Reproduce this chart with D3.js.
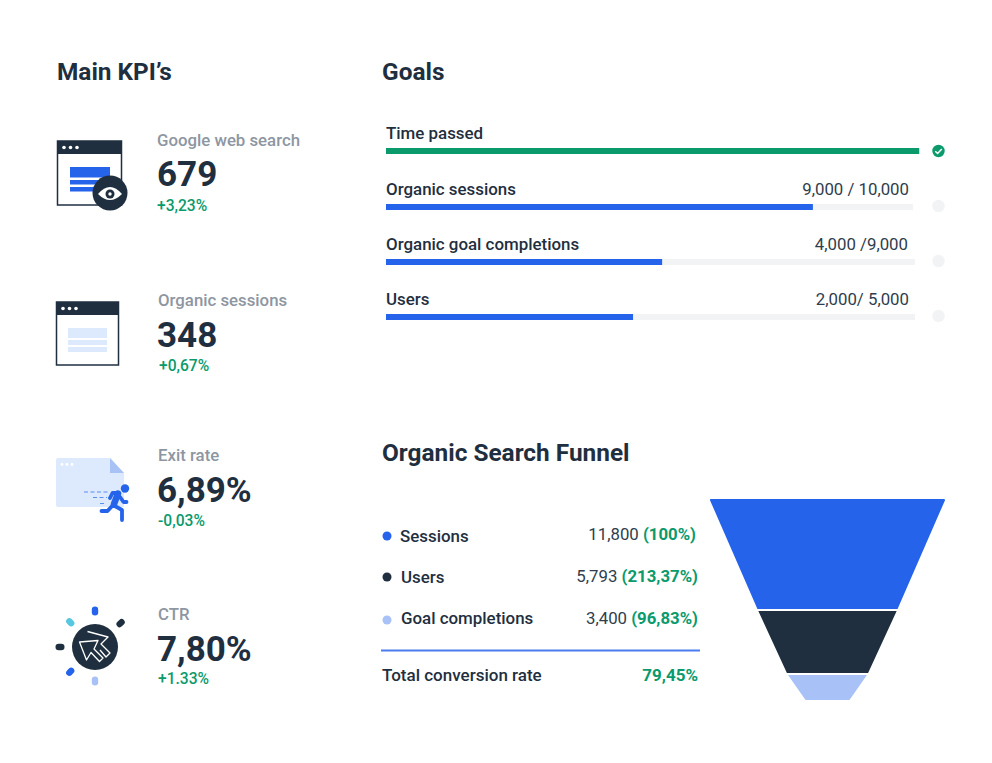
<!DOCTYPE html>
<html lang="en">
<head>
<title>SEO dashboard</title>
<meta charset="utf-8">
<script src="https://d3js.org/d3.v7.min.js"></script>
<style>
body { margin: 0; background: #fff; }
svg { display: block; font-family: Roboto, sans-serif; }
</style>
</head>
<body>
<div id="chart"></div>
<script>
// data
var kpiLabels = ["Google web search", "Organic sessions", "Exit rate", "CTR"];
var kpiValues = ["679", "348", "6,89%", "7,80%"];
var kpiDeltas = ["+3,23%", "+0,67%", "-0,03%", "+1.33%"];

var goalLabels = ["Time passed", "Organic sessions", "Organic goal completions", "Users"];
var goalTexts = ["", "9,000 / 10,000", "4,000 /9,000", "2,000/ 5,000"];
var goalFill = [1.008, 0.807, 0.522, 0.467];   // bar lengths as drawn, they don't follow the labels
var goalTrack = [1.008, 0.996, 1, 1];
var goalDone = [true, false, false, false];

var funnelLabels = ["Sessions", "Users", "Goal completions"];
var funnelValues = [11800, 5793, 3400];
var funnelTexts = ["11,800", "5,793", "3,400"];
var funnelPct = ["(100%)", "(213,37%)", "(96,83%)"];
var funnelEnd = 1900;   // estimated, only closes the bottom of the shape
var totalLabel = "Total conversion rate";
var totalValue = "79,45%";

var width = 992, height = 763;
var dark = "#1f2f40", blue = "#2563eb", light = "#a8c1f7", green = "#0b9a6b", pale = "#dde9fc";
var funnelColors = [blue, dark, light];

var svg = d3.select("#chart").append("svg")
  .attr("width", width)
  .attr("height", height);

function title(txt, x, y) {
  svg.append("text").attr("x", x).attr("y", y)
    .attr("font-size", 24.4).attr("font-weight", 700).attr("fill", dark).text(txt);
}
title("Main KPI\u2019s", 57, 79.5);
title("Goals", 382, 79.5);
title("Organic Search Funnel", 382, 460.5);

// KPI column
var kpiLabelX = [157, 158, 158, 158];
var kpiDeltaX = [157, 159, 158, 158];
var kpiDeltaY = [211, 371, 526, 684];
var kpiY = d3.scaleOrdinal().domain(kpiLabels).range([146, 306, 461, 620]);
var kpi = svg.append("g").selectAll("g").data(kpiLabels).join("g");
kpi.append("text")
  .attr("x", function(d, i) { return kpiLabelX[i]; })
  .attr("y", function(d) { return kpiY(d); })
  .attr("font-size", 16.8).attr("font-weight", 500).attr("fill", "#8d96a1")
  .text(function(d) { return d; });
kpi.append("text")
  .attr("x", 157)
  .attr("y", function(d) { return kpiY(d) + 40 + (d == kpiLabels[0] ? 0 : 1); })
  .attr("font-size", 35).attr("font-weight", 700).attr("fill", dark)
  .text(function(d, i) { return kpiValues[i]; });
kpi.append("text")
  .attr("x", function(d, i) { return kpiDeltaX[i]; })
  .attr("y", function(d, i) { return kpiDeltaY[i]; })
  .attr("font-size", 15.6).attr("font-weight", 500).attr("fill", green)
  .text(function(d, i) { return kpiDeltas[i]; });

// icon 1, window with eye
var ic1 = svg.append("g");
ic1.append("rect").attr("x", 57.5).attr("y", 141).attr("width", 64).attr("height", 64)
  .attr("fill", "#fff").attr("stroke", dark).attr("stroke-width", 1.5);
ic1.append("rect").attr("x", 57).attr("y", 141).attr("width", 65).attr("height", 13).attr("fill", dark);
[64, 70.5, 77].forEach(function(x) {
  ic1.append("circle").attr("cx", x).attr("cy", 147.5).attr("r", 1.8).attr("fill", "#fff");
});
ic1.append("rect").attr("x", 70).attr("y", 167).attr("width", 40).attr("height", 10.5).attr("fill", blue);
ic1.append("rect").attr("x", 70).attr("y", 180).attr("width", 40).attr("height", 4.5).attr("fill", blue);
ic1.append("rect").attr("x", 70).attr("y", 187).attr("width", 40).attr("height", 4.5).attr("fill", blue);
ic1.append("circle").attr("cx", 110).attr("cy", 193).attr("r", 17.5).attr("fill", dark);
ic1.append("path").attr("d", "M98 194Q110 180 122 194Q110 206 98 194Z").attr("fill", "#fff");
ic1.append("circle").attr("cx", 110).attr("cy", 194).attr("r", 4.5).attr("fill", dark);
ic1.append("circle").attr("cx", 110).attr("cy", 194).attr("r", 1.7).attr("fill", "#fff");

// icon 2, plain window
var ic2 = svg.append("g");
ic2.append("rect").attr("x", 56.5).attr("y", 302).attr("width", 62).attr("height", 63)
  .attr("fill", "#fff").attr("stroke", dark).attr("stroke-width", 1.5);
ic2.append("rect").attr("x", 56).attr("y", 302).attr("width", 63).attr("height", 13).attr("fill", dark);
[63, 69.5, 76].forEach(function(x) {
  ic2.append("circle").attr("cx", x).attr("cy", 308.5).attr("r", 1.8).attr("fill", "#fff");
});
ic2.append("rect").attr("x", 68).attr("y", 328).attr("width", 39).attr("height", 10).attr("fill", pale);
ic2.append("rect").attr("x", 68).attr("y", 340).attr("width", 39).attr("height", 5).attr("fill", pale);
ic2.append("rect").attr("x", 68).attr("y", 347).attr("width", 39).attr("height", 5).attr("fill", pale);

// icon 3, page with running figure
var ic3 = svg.append("g");
ic3.append("path").attr("d", "M58 458H110L124 473V507H58Q56 507 56 505V460Q56 458 58 458Z").attr("fill", pale);
ic3.append("path").attr("d", "M110 458L124 473H110Z").attr("fill", "#a9c2f5");
[62, 67, 72].forEach(function(x) {
  ic3.append("circle").attr("cx", x).attr("cy", 464.5).attr("r", 1.4).attr("fill", "#fff");
});
ic3.append("path").attr("d", "M84 492H108M93 497.5H107M100 503.5H106")
  .attr("stroke", "#5d8df0").attr("stroke-width", 1.2).attr("stroke-dasharray", "4 2.5").attr("fill", "none");
ic3.append("circle").attr("cx", 125).attr("cy", 488.5).attr("r", 4.2).attr("fill", blue);
ic3.append("path").attr("d", "M118 493L113 505M113 505L122 510L122 520M113 505L107.5 511H101.5M118 493H112.5L110 498M120 497L123.5 502H126.5")
  .attr("stroke", blue).attr("stroke-width", 3.8).attr("stroke-linecap", "round").attr("stroke-linejoin", "round").attr("fill", "none");
ic3.append("path").attr("d", "M118 493.5L114 504").attr("stroke", blue).attr("stroke-width", 6.5).attr("stroke-linecap", "round");

// icon 4, cursor with rays
var ic4 = svg.append("g").attr("transform", "translate(95,647)");
ic4.append("circle").attr("r", 23).attr("fill", dark);
var rayColors = [blue, dark, dark, "#53c8e0", blue, light];
var rayAngles = [0, 47, 270, 315, 225, 180];
var rayDist = [36, 35, 35, 35, 35, 34];
ic4.selectAll(".ray").data(rayAngles).join("rect")
  .attr("class", "ray")
  .attr("x", -3.2).attr("y", -4.5).attr("width", 6.4).attr("height", 9).attr("rx", 3.2)
  .attr("fill", function(d, i) { return rayColors[i]; })
  .attr("transform", function(d, i) { return "rotate(" + d + ")translate(0," + (-rayDist[i]) + ")"; });
ic4.append("path").attr("d", "M-15.5 -5L3 -6.5L-1 2L8 11L4.5 14.5L-4 5.5L-8.5 13Z")
  .attr("fill", "none").attr("stroke", "#fff").attr("stroke-width", 1.3).attr("stroke-linejoin", "round");
ic4.append("path").attr("d", "M-7.5 -15.5L13 -10L6 -3L15 6L11 10L5 3")
  .attr("fill", "none").attr("stroke", "#fff").attr("stroke-width", 1.3).attr("stroke-linejoin", "round");

// goal bars
var goalX = d3.scaleLinear().domain([0, 1]).range([386, 915]);
var goalY = d3.scaleOrdinal().domain(goalLabels).range([139, 195, 250, 305]);
var goal = svg.append("g").selectAll("g").data(goalLabels).join("g");
goal.append("text")
  .attr("x", goalX(0))
  .attr("y", function(d) { return goalY(d); })
  .attr("font-size", 16.9).attr("font-weight", 500).attr("fill", dark)
  .text(function(d) { return d; });
goal.append("text")
  .attr("x", function(d, i) { return i == 2 ? 908 : 909; })
  .attr("y", function(d) { return goalY(d); })
  .attr("text-anchor", "end").attr("font-size", 16.8).attr("fill", "#2f3d4d")
  .text(function(d, i) { return goalTexts[i]; });
goal.append("rect")
  .attr("x", goalX(0))
  .attr("y", function(d) { return goalY(d) + 9; })
  .attr("width", function(d, i) { return goalX(goalTrack[i]) - goalX(0); })
  .attr("height", 6).attr("fill", "#f2f3f4");
goal.append("rect")
  .attr("x", goalX(0))
  .attr("y", function(d) { return goalY(d) + 9; })
  .attr("width", function(d, i) { return goalX(goalFill[i]) - goalX(0); })
  .attr("height", 6)
  .attr("fill", function(d, i) { return goalDone[i] ? green : blue; });
goal.append("circle")
  .attr("cx", 938.5)
  .attr("cy", function(d, i) { return goalY(d) + (i == 0 ? 12 : 11); })
  .attr("r", 6.2)
  .attr("fill", function(d, i) { return goalDone[i] ? green : "#f2f3f4"; });
svg.append("path").attr("d", "M935.2 151.2L937.6 153.4L941.8 149")
  .attr("fill", "none").attr("stroke", "#fff").attr("stroke-width", 1.5);

// funnel legend
var legendY = [542, 583, 624];
var legendValueY = [540, 582, 624];
var legendDotY = [536, 577, 620];
var legendValueX = [696, 698, 698];
var legendLabelX = [400, 401, 401];
var legend = svg.append("g").selectAll("g").data(funnelLabels).join("g");
legend.append("circle")
  .attr("cx", 387)
  .attr("cy", function(d, i) { return legendDotY[i]; })
  .attr("r", 4.5)
  .attr("fill", function(d, i) { return funnelColors[i]; });
legend.append("text")
  .attr("x", function(d, i) { return legendLabelX[i]; })
  .attr("y", function(d, i) { return legendY[i]; })
  .attr("font-size", 16.9).attr("font-weight", 500).attr("fill", dark)
  .text(function(d) { return d; });
var legendVal = legend.append("text")
  .attr("x", function(d, i) { return legendValueX[i]; })
  .attr("y", function(d, i) { return legendValueY[i]; })
  .attr("text-anchor", "end").attr("font-size", 16.8).attr("fill", "#2f3d4d");
legendVal.append("tspan").text(function(d, i) { return funnelTexts[i] + " "; });
legendVal.append("tspan").attr("font-weight", 700).attr("fill", green)
  .text(function(d, i) { return funnelPct[i]; });

svg.append("line").attr("x1", 381).attr("x2", 700).attr("y1", 650.5).attr("y2", 650.5)
  .attr("stroke", "#4a7cf0").attr("stroke-width", 2);
svg.append("text").attr("x", 382).attr("y", 681)
  .attr("font-size", 17).attr("font-weight", 500).attr("fill", dark).text(totalLabel);
svg.append("text").attr("x", 698).attr("y", 681).attr("text-anchor", "end")
  .attr("font-size", 17).attr("font-weight", 700).attr("fill", green).text(totalValue);

// funnel, both scales are piecewise because the shape isn't proportional to the numbers
var funnelEdges = funnelValues.concat([funnelEnd]);
var funnelY = d3.scaleLinear().domain(funnelEdges).range([500, 610, 674, 699]);
var funnelW = d3.scaleLinear().domain(funnelEdges).range([233, 137, 78, 43]);
var funnelCx = 827.5;
var area = d3.line();

// same colour stroke with round joins gives the soft corners
svg.append("g").selectAll("path").data(funnelValues).join("path")
  .attr("d", function(d, i) {
    var next = funnelEdges[i + 1];
    return area([
      [funnelCx - funnelW(d) / 2, funnelY(d)],
      [funnelCx + funnelW(d) / 2, funnelY(d)],
      [funnelCx + funnelW(next) / 2, funnelY(next)],
      [funnelCx - funnelW(next) / 2, funnelY(next)]
    ]) + "Z";
  })
  .attr("fill", function(d, i) { return funnelColors[i]; })
  .attr("stroke", function(d, i) { return funnelColors[i]; })
  .attr("stroke-width", 2)
  .attr("stroke-linejoin", "round");

svg.append("g").selectAll("line").data(funnelValues.slice(1)).join("line")
  .attr("x1", function(d) { return funnelCx - funnelW(d) / 2 - 4; })
  .attr("x2", function(d) { return funnelCx + funnelW(d) / 2 + 4; })
  .attr("y1", function(d) { return funnelY(d); })
  .attr("y2", function(d) { return funnelY(d); })
  .attr("stroke", "#fff").attr("stroke-width", 2);
</script>
</body>
</html>
